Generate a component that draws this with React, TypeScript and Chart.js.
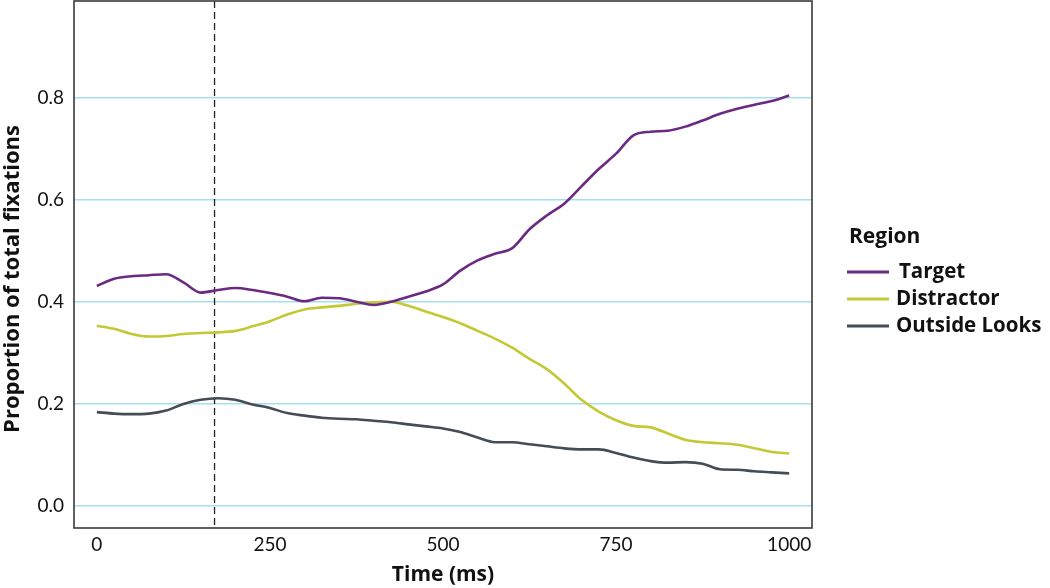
import React, { useEffect, useRef } from "react";
import { Chart, registerables } from "chart.js";

Chart.register(...registerables);

const TIMES = [0, 25, 50, 75, 100, 125, 150, 175, 200, 225, 250, 275, 300, 325, 350, 375, 400, 425, 450, 475, 500, 525, 550, 575, 600, 625, 650, 675, 700, 725, 750, 775, 800, 825, 850, 875, 900, 925, 950, 975, 1000];

const TARGET = [0.431, 0.445, 0.45, 0.452, 0.454, 0.438, 0.418, 0.423, 0.427, 0.423, 0.417, 0.41, 0.401, 0.408, 0.407, 0.4, 0.394, 0.4, 0.41, 0.42, 0.434, 0.461, 0.481, 0.494, 0.505, 0.542, 0.569, 0.592, 0.626, 0.66, 0.69, 0.726, 0.733, 0.735, 0.743, 0.755, 0.768, 0.778, 0.786, 0.793, 0.804];

const DISTRACTOR = [0.353, 0.347, 0.337, 0.332, 0.333, 0.337, 0.339, 0.34, 0.343, 0.352, 0.362, 0.375, 0.385, 0.389, 0.392, 0.396, 0.399, 0.4, 0.392, 0.381, 0.37, 0.358, 0.343, 0.328, 0.31, 0.288, 0.268, 0.24, 0.208, 0.185, 0.168, 0.157, 0.154, 0.142, 0.13, 0.125, 0.123, 0.12, 0.113, 0.106, 0.103];

const OUTSIDE = [0.184, 0.181, 0.18, 0.181, 0.187, 0.2, 0.208, 0.211, 0.208, 0.199, 0.192, 0.182, 0.177, 0.173, 0.171, 0.17, 0.167, 0.164, 0.16, 0.156, 0.152, 0.145, 0.134, 0.125, 0.125, 0.121, 0.117, 0.113, 0.111, 0.111, 0.104, 0.095, 0.088, 0.085, 0.086, 0.083, 0.072, 0.071, 0.068, 0.066, 0.064];

const SERIES_LABELS = ["Target", "Distractor", "Outside Looks"];
const SERIES_COLORS = ["#6a2a82", "#c3c834", "#454c54"];
const X_TICKS = [0, 250, 500, 750, 1000];
const Y_TICKS = [0, 0.2, 0.4, 0.6, 0.8];
const MARKER_TIME = 170;
const LEGEND_TITLE = "Region";
const Y_TITLE = "Proportion of total fixations";
const X_TITLE = "Time (ms)";

const TITLE_FONT = "'Open Sans', 'Noto Sans', sans-serif";
const TICK_FONT = "Lato, 'Open Sans', sans-serif";

const framePlugin = {
  id: "frame",
  beforeDatasetsDraw(chart: any) {
    const { ctx, chartArea, scales } = chart;
    const x = scales.x.getPixelForValue(MARKER_TIME);
    ctx.save();
    ctx.strokeStyle = "#222";
    ctx.lineWidth = 1.3;
    ctx.setLineDash([7, 4]);
    ctx.beginPath();
    ctx.moveTo(x, chartArea.top);
    ctx.lineTo(x, chartArea.bottom);
    ctx.stroke();
    ctx.restore();
  },
  afterDraw(chart: any) {
    const { ctx, chartArea } = chart;
    ctx.save();
    ctx.strokeStyle = "#3a3a3a";
    ctx.lineWidth = 1.6;
    ctx.strokeRect(chartArea.left, chartArea.top, chartArea.right - chartArea.left, chartArea.bottom - chartArea.top);
    ctx.restore();

    // y-axis title
    ctx.save();
    ctx.translate(13, 279);
    ctx.rotate(-Math.PI / 2);
    ctx.fillStyle = "#111";
    ctx.textAlign = "center";
    ctx.textBaseline = "middle";
    ctx.font = `bold 22px ${TITLE_FONT}`;
    ctx.fillText(Y_TITLE, 0, 0);
    ctx.restore();

    // legend
    ctx.save();
    ctx.fillStyle = "#111";
    ctx.textBaseline = "middle";
    ctx.textAlign = "left";
    ctx.font = `bold 21px ${TITLE_FONT}`;
    ctx.fillText(LEGEND_TITLE, 849, 237);
    ctx.font = `bold 20.5px ${TITLE_FONT}`;
    chart.data.datasets.forEach((ds: any, i: number) => {
      const y = 272 + i * 27;
      ctx.strokeStyle = ds.borderColor;
      ctx.lineWidth = 3;
      ctx.beginPath();
      ctx.moveTo(847, y);
      ctx.lineTo(889, y);
      ctx.stroke();
      ctx.fillStyle = "#111";
      ctx.fillText(ds.label, i === 0 ? 899 : 896, y);
    });
    ctx.restore();
  },
};

export default function App() {
  const ref = useRef<HTMLCanvasElement>(null);
  useEffect(() => {
    if (!ref.current) return;
    const seriesValues = [TARGET, DISTRACTOR, OUTSIDE];
    const chart = new Chart(ref.current, {
      type: "line",
      data: {
        datasets: seriesValues.map((vals, i) => ({
          label: SERIES_LABELS[i],
          data: TIMES.map((t, j) => ({ x: t, y: vals[j] })),
          borderColor: SERIES_COLORS[i],
          backgroundColor: SERIES_COLORS[i],
          borderWidth: 2.6,
          pointRadius: 0,
          tension: 0.4,
          cubicInterpolationMode: "monotone" as const,
          fill: false,
        })),
      },
      options: {
        responsive: false,
        animation: false,
        layout: { padding: { top: 1, right: 238, left: 0, bottom: 0 } },
        plugins: {
          legend: { display: false },
          tooltip: { enabled: false },
        },
        scales: {
          x: {
            type: "linear",
            min: -33,
            max: 1033,
            afterBuildTicks: (s: any) => {
              s.ticks = X_TICKS.map((v) => ({ value: v }));
            },
            afterFit: (s: any) => {
              s.height = 60;
              s.paddingLeft = 0;
              s.paddingRight = 0;
            },
            grid: { display: false, drawTicks: false },
            border: { display: false },
            ticks: {
              padding: 5,
              color: "#111",
              font: { family: TICK_FONT, size: 19 },
              maxRotation: 0,
              callback: (v: any) => String(v),
            },
            title: {
              display: true,
              text: X_TITLE,
              color: "#111",
              font: { family: TITLE_FONT, size: 21, weight: "bold" },
              padding: { top: 6, bottom: 0 },
            },
          },
          y: {
            type: "linear",
            min: -0.043,
            max: 0.989,
            afterBuildTicks: (s: any) => {
              s.ticks = Y_TICKS.map((v) => ({ value: v }));
            },
            afterFit: (s: any) => {
              s.width = 74;
              s.paddingTop = 0;
              s.paddingBottom = 0;
            },
            grid: { color: "#a4e0ee", lineWidth: 1.6, drawTicks: false },
            border: { display: false },
            ticks: {
              padding: 10,
              color: "#111",
              font: { family: TICK_FONT, size: 19 },
              callback: (v: any) => Number(v).toFixed(1),
            },
            title: { display: false },
          },
        },
      },
      plugins: [framePlugin],
    });
    return () => chart.destroy();
  }, []);
  return (
    <div style={{ position: "absolute", left: 0, top: 0, width: 1050, height: 588, background: "#fff" }}>
      <canvas ref={ref} width={1050} height={588} />
    </div>
  );
}
